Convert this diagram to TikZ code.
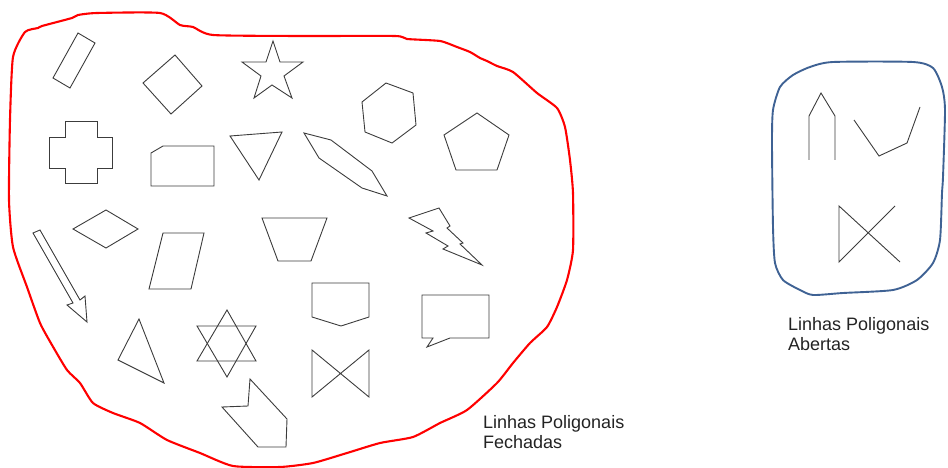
\documentclass[tikz,border=0pt]{standalone}
\usepackage{fontspec}
\setmainfont{Liberation Sans}
\definecolor{blobred}{RGB}{255,0,0}
\definecolor{blobblue}{RGB}{63,98,148}
\definecolor{shapegray}{RGB}{60,60,60}
\definecolor{labeltext}{RGB}{35,35,35}
\tikzset{
  poly/.style={draw=shapegray, line width=0.9pt, line join=miter},
  redblob/.style={draw=blobred, line width=2.1pt, line join=round, line cap=round},
  blueblob/.style={draw=blobblue, line width=1.9pt, line join=round, line cap=round},
  lbl/.style={anchor=north west, inner sep=0pt, align=left, text=labeltext,
    font=\fontsize{18}{20.5}\selectfont}
}
\begin{document}
\begin{tikzpicture}[x=1pt,y=-1pt]
\useasboundingbox (0,0) rectangle (948,468);

% red closed region
\draw[redblob] plot[smooth cycle, tension=0.35] coordinates {(280,467) (233,466) (200,453) (167,440) (140,423) (113,413) (93,403)
  (80,383) (67,370) (52,345) (40,323) (27,287) (13,247) (9,200) (10,120)
  (13,57) (25,32) (38,28) (42,26) (72,18) (78,15) (97,13) (160,13)
  (180,25) (193,27) (213,35) (300,36) (395,36) (407,39) (440,41)
  (457,47) (470,52) (480,58) (487,61) (497,66) (513,72) (537,93)
  (557,108) (565,127) (570,160) (573,193) (573,250) (567,280) (557,307)
  (547,327) (530,343) (513,363) (497,383) (467,410) (440,423) (413,437)
  (380,443) (347,453) (313,463)};

% blue open region
\draw[blueblob] plot[smooth cycle, tension=0.4] coordinates {(773,110) (780,87) (793,75) (810,67) (833,62) (913,62) (933,68)
  (942,87) (945,110) (943,177) (942,193) (940,240) (933,263) (917,280)
  (893,290) (843,293) (813,295) (800,290) (783,280) (775,263) (773,227)
  (772,143)};

% closed polygons
\draw[poly] (78,33) -- (95,43) -- (70,88) -- (53,78) -- cycle;
\draw[poly] (175,55) -- (202,86) -- (171,114) -- (143,83) -- cycle;
\draw[poly] (273,41) -- (280,62) -- (303,62) -- (284,76) -- (292,98) -- (272,85) -- (254,98)
  -- (261,76) -- (242,62) -- (266,62) -- cycle;
\draw[poly] (386,83) -- (413,93) -- (416,125) -- (392,143) -- (365,132) -- (362,102) -- cycle;
\draw[poly] (49,137) -- (65,137) -- (65,121) -- (97,121) -- (97,137) -- (112,137) -- (112,168)
  -- (97,168) -- (97,183) -- (65,183) -- (65,168) -- (49,168) -- cycle;
\draw[poly] (151,153) -- (163,146) -- (214,146) -- (214,186) -- (151,186) -- cycle;
\draw[poly] (230,136) -- (282,132) -- (259,180) -- cycle;
\draw[poly] (304,133) -- (331,140) -- (372,171) -- (387,196) -- (362,188) -- (319,158) -- cycle;
\draw[poly] (477,113) -- (509,135) -- (497,170) -- (456,170) -- (444,135) -- cycle;
\draw[poly] (73,229) -- (106,210) -- (138,229) -- (106,248) -- cycle;
\draw[poly] (33,233) -- (40,230) -- (80,300) -- (85,296) -- (87,322) -- (67,305) -- (73,303) -- cycle;
\draw[poly] (163,233) -- (204,233) -- (191,289) -- (149,289) -- cycle;
\draw[poly] (262,218) -- (327,218) -- (311,261) -- (278,261) -- cycle;
\draw[poly] (409,218) -- (439,208) -- (450,226) -- (447,228) -- (463,243) -- (460,244) -- (482,265)
  -- (443,249) -- (448,246) -- (426,233) -- (433,231) -- cycle;
\draw[poly] (312,283) -- (369,283) -- (369,317) -- (341,326) -- (312,317) -- cycle;
\draw[poly] (422,295) -- (489,295) -- (489,338) -- (450,338) -- (427,347) -- (433,338) -- (422,338) -- cycle;
\draw[poly] (139,319) -- (164,383) -- (118,360) -- cycle;
\draw[poly] (227,310) -- (256,361) -- (197,361) -- cycle;
\draw[poly] (197,326) -- (256,326) -- (227,377) -- cycle;
\draw[poly] (312,350) -- (369,397) -- (369,350) -- (312,397) -- cycle;
\draw[poly] (250,379) -- (287,419) -- (286,447) -- (258,447) -- (222,407) -- (248,406) -- cycle;

% open polygonal lines
\draw[poly] (809,160) -- (809,116) -- (821,93) -- (835,116) -- (835,160);
\draw[poly] (854,120) -- (879,156) -- (907,143) -- (920,107);
\draw[poly] (895,206) -- (839,262) -- (839,206) -- (900,262);

% labels
\node[lbl] (fechadas) at (483,415) {Linhas Poligonais\\Fechadas};
\node[lbl] (abertas) at (788,317) {Linhas Poligonais\\Abertas};
\end{tikzpicture}
\end{document}
